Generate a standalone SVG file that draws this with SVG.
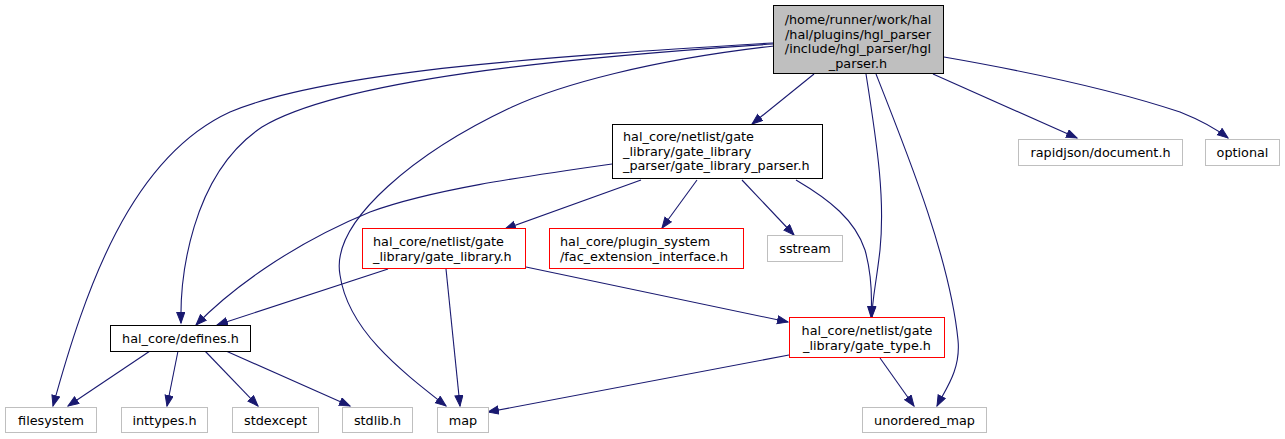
<svg xmlns="http://www.w3.org/2000/svg" width="1285" height="439" viewBox="0 0 1285 439">
<style>
text{font-family:"DejaVu Sans","Liberation Sans",sans-serif;font-size:12.8px;fill:#000}
.c{text-anchor:middle}
.root{fill:#bfbfbf;stroke:#000;stroke-width:1}
.blk{fill:#fff;stroke:#000;stroke-width:1}
.red{fill:#fff;stroke:#ff0000;stroke-width:1}
.gry{fill:#fff;stroke:#bfbfbf;stroke-width:1}
#edges path{fill:none;stroke:#191970;stroke-width:1.1;marker-end:url(#ah)}
</style>
<defs>
<marker id="ah" markerUnits="userSpaceOnUse" markerWidth="13" markerHeight="10" refX="11" refY="4.5" orient="auto">
<path d="M0.5,0.5 L11,4.5 L0.5,8.5 Z" fill="#191970" stroke="#191970"/>
</marker>
</defs>
<rect width="1285" height="439" fill="#fff"/>
<g id="edges">
<path d="M773,43 C560,56 330,70 230,112 C130,158 85,290 53,406"/>
<path d="M773,44 C560,58 340,80 262,127 C190,175 180,280 181,323"/>
<path d="M774,46 C650,60 560,85 512,107 C420,150 330,220 340,275 C348,330 400,370 446,406"/>
<path d="M814,74 L752,124"/>
<path d="M866,74 C878,150 885,200 880,250 C876,285 872,300 872,317"/>
<path d="M876,74 C910,160 950,260 958,340 C961,370 945,390 937,406"/>
<path d="M933,74 L1077,138"/>
<path d="M944,57 C1030,72 1120,92 1180,112 C1200,120 1215,128 1228,138"/>
<path d="M612,164 C520,177 430,190 370,212 C290,245 230,290 196,325"/>
<path d="M641,180 L505,229"/>
<path d="M697,180 L662,228"/>
<path d="M742,180 L794,235"/>
<path d="M796,180 C830,200 855,220 865,250 C872,275 872,300 871,317"/>
<path d="M388,269 L217,325"/>
<path d="M446,269 L460,406"/>
<path d="M526,267 L788,322"/>
<path d="M150,351 L68,406"/>
<path d="M178,351 L167,406"/>
<path d="M205,351 L258,406"/>
<path d="M226,351 L350,406"/>
<path d="M789,355 L488,412"/>
<path d="M880,358 L914,406"/>
</g>
<g id="n_root">
<rect class="root" x="773.5" y="5.5" width="170" height="68"/>
<text class="c" x="858" y="24">/home/runner/work/hal</text>
<text class="c" x="858" y="38.5">/hal/plugins/hgl_parser</text>
<text class="c" x="858" y="53">/include/hgl_parser/hgl</text>
<text class="c" x="858" y="67.5">_parser.h</text>
</g>
<g id="n_parser">
<rect class="blk" x="612.5" y="124.5" width="210" height="54"/>
<text x="623" y="141">hal_core/netlist/gate</text>
<text x="623" y="155.5">_library/gate_library</text>
<text x="623" y="170">_parser/gate_library_parser.h</text>
</g>
<g id="n_gate_library">
<rect class="red" x="362.5" y="228.5" width="163" height="40"/>
<text x="373" y="246">hal_core/netlist/gate</text>
<text x="373" y="260.5">_library/gate_library.h</text>
</g>
<g id="n_fac">
<rect class="red" x="549.5" y="228.5" width="194" height="40"/>
<text x="560" y="246">hal_core/plugin_system</text>
<text x="560" y="260.5">/fac_extension_interface.h</text>
</g>
<g id="n_sstream">
<rect class="gry" x="767.5" y="235.5" width="75" height="26"/>
<text class="c" x="805" y="253">sstream</text>
</g>
<g id="n_defines">
<rect class="blk" x="110.5" y="325.5" width="140" height="26"/>
<text class="c" x="180.5" y="343">hal_core/defines.h</text>
</g>
<g id="n_gate_type">
<rect class="red" x="789.5" y="317.5" width="155" height="40"/>
<text class="c" x="867" y="335">hal_core/netlist/gate</text>
<text class="c" x="867" y="349.5">_library/gate_type.h</text>
</g>
<g id="n_rapidjson">
<rect class="gry" x="1018.5" y="139.5" width="164" height="26"/>
<text class="c" x="1100.5" y="157">rapidjson/document.h</text>
</g>
<g id="n_optional">
<rect class="gry" x="1205.5" y="139.5" width="74" height="26"/>
<text class="c" x="1242.5" y="157">optional</text>
</g>
<g id="n_filesystem">
<rect class="gry" x="5.5" y="407.5" width="91" height="25"/>
<text class="c" x="51" y="424.5">filesystem</text>
</g>
<g id="n_inttypes">
<rect class="gry" x="121.5" y="407.5" width="86" height="25"/>
<text class="c" x="164.5" y="424.5">inttypes.h</text>
</g>
<g id="n_stdexcept">
<rect class="gry" x="232.5" y="407.5" width="86" height="25"/>
<text class="c" x="275.5" y="424.5">stdexcept</text>
</g>
<g id="n_stdlib">
<rect class="gry" x="342.5" y="407.5" width="70" height="25"/>
<text class="c" x="377.5" y="424.5">stdlib.h</text>
</g>
<g id="n_map">
<rect class="gry" x="437.5" y="407.5" width="51" height="25"/>
<text class="c" x="463" y="424.5">map</text>
</g>
<g id="n_unordered_map">
<rect class="gry" x="862.5" y="407.5" width="124" height="25"/>
<text class="c" x="924.5" y="424.5">unordered_map</text>
</g>
</svg>
